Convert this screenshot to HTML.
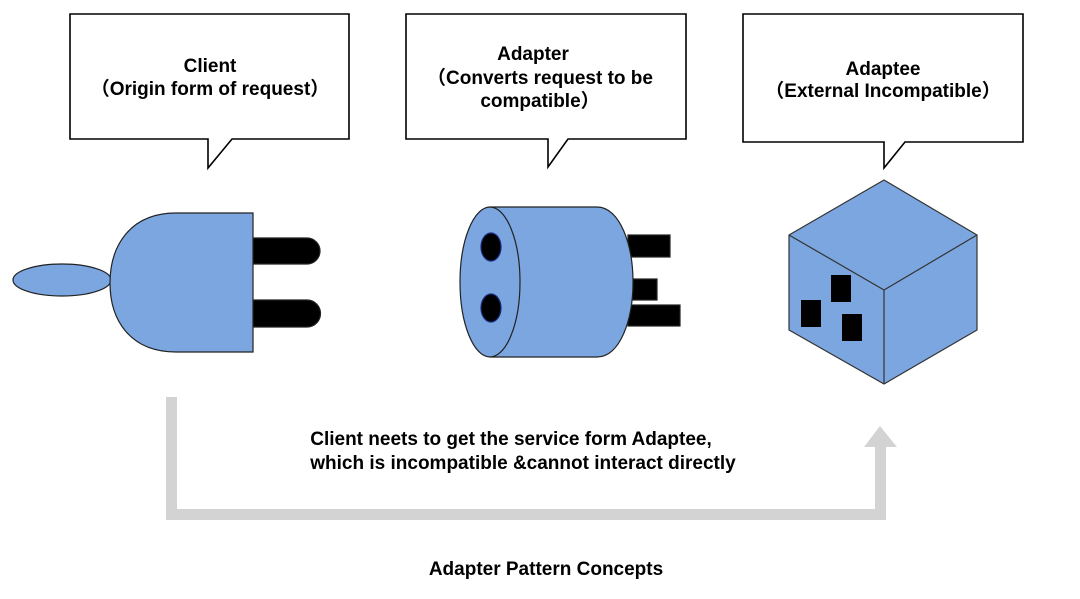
<!DOCTYPE html>
<html><head><meta charset="utf-8"><style>
html,body{margin:0;padding:0;background:#fff;}
svg{display:block}
text{font-family:"Liberation Sans","Noto Sans CJK SC",sans-serif;font-weight:bold;font-size:19px;fill:#000;text-anchor:middle}
</style></head><body>
<svg width="1080" height="599" viewBox="0 0 1080 599" xmlns="http://www.w3.org/2000/svg">
<!-- callouts -->
<g fill="#fff" stroke="#000" stroke-width="1.6">
<path d="M70,14 H349 V139 H232 L208,168 V139 H70 Z"/>
<path d="M406,14 H686 V139 H568 L548,167 V139 H406 Z"/>
<path d="M743,14 H1023 V142 H905 L884,168 V142 H743 Z"/>
</g>
<text x="210" y="72">Client</text>
<text x="210" y="95">（Origin form of request）</text>
<text x="533" y="60">Adapter</text>
<text x="540" y="84">（Converts request to be</text>
<text x="540" y="107">compatible）</text>
<text x="883" y="75">Adaptee</text>
<text x="883" y="97">（External Incompatible）</text>

<!-- client plug -->
<g stroke="#222" stroke-width="1.2">
<ellipse cx="62" cy="280" rx="49" ry="16" fill="#7ba6e0"/>
<path d="M253,238 H307 A13,13 0 0 1 307,264 H253 Z" fill="#000"/>
<path d="M253,300 H307 A13.5,13.5 0 0 1 307,327 H253 Z" fill="#000"/>
<path d="M176,213 H253 V352 H176 C130,352 110,320 110,283 C110,246 130,213 176,213 Z" fill="#7ba6e0"/>
</g>

<!-- adapter -->
<g stroke="#222" stroke-width="1.2">
<rect x="628" y="235" width="42" height="22" fill="#000"/>
<rect x="628" y="279" width="29" height="21" fill="#000"/>
<rect x="628" y="305" width="52" height="21" fill="#000"/>
<path d="M490,207 H597 C620,207 633,245 633,282 C633,320 620,357 597,357 H490 Z" fill="#7ba6e0"/>
<ellipse cx="490" cy="282" rx="30" ry="75" fill="#7ba6e0"/>
<ellipse cx="491" cy="247" rx="10" ry="14" fill="#000" stroke="#1a2a80"/>
<ellipse cx="491" cy="308" rx="10" ry="14" fill="#000" stroke="#1a2a80"/>
</g>

<!-- cube -->
<g stroke="#333" stroke-width="1.2" fill="#7ba6e0" stroke-linejoin="round">
<path d="M884,180 L977,235 L977,330 L884,384 L789,330 L789,235 Z"/>
<path d="M789,235 L884,290 L977,235 M884,290 V384" fill="none"/>
</g>
<rect x="831" y="275" width="20" height="27" fill="#000"/>
<rect x="801" y="300" width="20" height="27" fill="#000"/>
<rect x="842" y="314" width="20" height="27" fill="#000"/>

<!-- gray connector -->
<g fill="#d3d3d3">
<rect x="166" y="397" width="11" height="123"/>
<rect x="166" y="509" width="720" height="11"/>
<rect x="875" y="446" width="11" height="74"/>
<path d="M880,426 L897,447 L864,447 Z"/>
</g>
<text x="511" y="445">Client neets to get the service form Adaptee,</text>
<text x="523" y="469">which is incompatible &amp;cannot interact directly</text>
<text x="546" y="575">Adapter Pattern Concepts</text>
</svg>
</body></html>
